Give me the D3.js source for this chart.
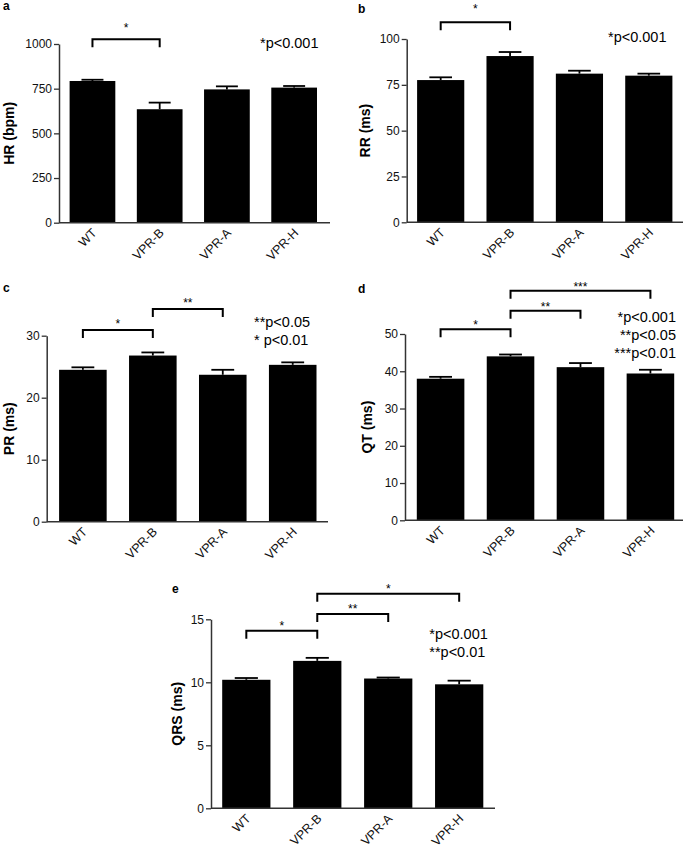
<!DOCTYPE html>
<html>
<head>
<meta charset="utf-8">
<script src="https://cdn.jsdelivr.net/npm/d3@7/dist/d3.min.js"></script>
<style>
  html, body { margin: 0; padding: 0; background: #fff; }
  svg { display: block; font-family: "Liberation Sans", Arial, sans-serif; }
</style>
</head>
<body>
<svg id="chart" width="685" height="852"></svg>
<script>
// ---------- DATA ----------
const groups = ["WT", "VPR-B", "VPR-A", "VPR-H"];

const hrMean = [793, 635, 746, 756];
const hrErr  = [7, 37, 17, 9];
const rrMean = [77.6, 90.7, 81.1, 80.0];
const rrErr  = [1.5, 2.2, 1.6, 1.1];
const prMean = [24.5, 26.8, 23.7, 25.3];
const prErr  = [0.4, 0.5, 0.8, 0.4];
const qtMean = [38.0, 44.0, 41.1, 39.4];
const qtErr  = [0.5, 0.5, 1.1, 1.0];
const qrsMean = [10.2, 11.7, 10.3, 9.84];
const qrsErr  = [0.14, 0.24, 0.08, 0.29];

const hrTicks  = [0, 250, 500, 750, 1000];
const rrTicks  = [0, 25, 50, 75, 100];
const prTicks  = [0, 10, 20, 30];
const qtTicks  = [0, 10, 20, 30, 40, 50];
const qrsTicks = [0, 5, 10, 15];

// significance brackets: [groupA, groupB, label, level (data units)]
const hrBrackets  = [[0, 1, "*", 1026]];
const rrBrackets  = [[0, 1, "*", 109.1]];
const prBrackets  = [[0, 1, "*", 30.9], [1, 2, "**", 34.3]];
const qtBrackets  = [[0, 1, "*", 51.3], [1, 2, "**", 56.25], [1, 3, "***", 61.6]];
const qrsBrackets = [[0, 1, "*", 14.1], [1, 2, "**", 15.42], [1, 3, "*", 17.03]];

const hrNotes  = ["*p<0.001"];
const rrNotes  = ["*p<0.001"];
const prNotes  = ["**p<0.05", "* p<0.01"];
const qtNotes  = ["*p<0.001", "**p<0.05", "***p<0.01"];
const qrsNotes = ["*p<0.001", "**p<0.01"];

// ---------- LAYOUT ----------
const panels = [
  { letter: "a", lx: 3, ly: 10, yLabel: "HR (bpm)", mean: hrMean, err: hrErr, ticks: hrTicks, brackets: hrBrackets, notes: hrNotes,
    axisX: 59, axisEnd: 330, band: [69.6, 317], yTop: 44, yBottom: 222.7, labelX: 14, noteX: 260, noteY: 48, anchor: "start", starGap: 7 },
  { letter: "b", lx: 358, ly: 13, yLabel: "RR (ms)", mean: rrMean, err: rrErr, ticks: rrTicks, brackets: rrBrackets, notes: rrNotes,
    axisX: 406.7, axisEnd: 683, band: [417.1, 672.4], yTop: 39, yBottom: 222.3, labelX: 370, noteX: 608, noteY: 42, anchor: "start", starGap: 9 },
  { letter: "c", lx: 3, ly: 292, yLabel: "PR (ms)", mean: prMean, err: prErr, ticks: prTicks, brackets: prBrackets, notes: prNotes,
    axisX: 46.7, axisEnd: 328, band: [59.1, 316.5], yTop: 335.7, yBottom: 521.7, labelX: 14, noteX: 254, noteY: 327.3, anchor: "start", starGap: 2 },
  { letter: "d", lx: 358, ly: 293, yLabel: "QT (ms)", mean: qtMean, err: qtErr, ticks: qtTicks, brackets: qtBrackets, notes: qtNotes,
    axisX: 405, axisEnd: 683, band: [416.8, 674.2], yTop: 334, yBottom: 520.3, labelX: 372, noteX: 676, noteY: 321.7, anchor: "end", starGap: 0 },
  { letter: "e", lx: 172, ly: 593, yLabel: "QRS (ms)", mean: qrsMean, err: qrsErr, ticks: qrsTicks, brackets: qrsBrackets, notes: qrsNotes,
    axisX: 211, axisEnd: 495, band: [222.2, 483.3], yTop: 619.3, yBottom: 808.3, labelX: 182, noteX: 429.3, noteY: 639.3, anchor: "start", starGap: 1 }
];

const svg = d3.select("#chart");
const axisColor = "#333";

panels.forEach(p => {
  const g = svg.append("g");
  const yMax = p.ticks[p.ticks.length - 1];
  const y = d3.scaleLinear().domain([0, yMax]).range([p.yBottom, p.yTop]);
  const x = d3.scaleBand().domain(groups).range(p.band).paddingInner(0.32).paddingOuter(0);

  // panel letter
  g.append("text").attr("x", p.lx).attr("y", p.ly)
    .attr("font-size", 12).attr("font-weight", "bold").text(p.letter);

  // bars
  g.selectAll("rect.bar").data(groups).enter().append("rect")
    .attr("class", "bar")
    .attr("x", d => x(d))
    .attr("width", x.bandwidth())
    .attr("y", (d, i) => y(p.mean[i]))
    .attr("height", (d, i) => y(0) - y(p.mean[i]))
    .attr("fill", "#000");

  // error bars (upper only)
  const capW = x.bandwidth() * 0.48;
  groups.forEach((d, i) => {
    const cx = x(d) + x.bandwidth() / 2;
    g.append("line").attr("x1", cx).attr("x2", cx)
      .attr("y1", y(p.mean[i])).attr("y2", y(p.mean[i] + p.err[i]))
      .attr("stroke", "#000").attr("stroke-width", 1.8);
    g.append("line").attr("x1", cx - capW / 2).attr("x2", cx + capW / 2)
      .attr("y1", y(p.mean[i] + p.err[i])).attr("y2", y(p.mean[i] + p.err[i]))
      .attr("stroke", "#000").attr("stroke-width", 1.8);
  });

  // y axis
  const yAxis = d3.axisLeft(y).tickValues(p.ticks).tickFormat(d3.format("d"))
    .tickSize(5).tickPadding(2).tickSizeOuter(0);
  const ya = g.append("g").attr("transform", `translate(${p.axisX},0)`).call(yAxis);
  ya.select(".domain").attr("stroke", axisColor).attr("stroke-width", 1.5);
  ya.selectAll(".tick line").attr("stroke", axisColor).attr("stroke-width", 1.3);
  ya.selectAll(".tick text").attr("font-size", 12).attr("fill", "#111")
    .attr("font-family", "'Liberation Sans', Arial, sans-serif");

  // x axis line
  g.append("line").attr("x1", p.axisX).attr("x2", p.axisEnd)
    .attr("y1", y(0)).attr("y2", y(0))
    .attr("stroke", axisColor).attr("stroke-width", 1.5);

  // x labels rotated 45 degrees
  groups.forEach(d => {
    const cx = x(d) + x.bandwidth() / 2;
    g.append("text")
      .attr("transform", `translate(${cx + 5},${y(0) + 11}) rotate(-45)`)
      .attr("text-anchor", "end").attr("font-size", 12.5).attr("fill", "#111")
      .text(d);
  });

  // y label
  g.append("text")
    .attr("transform", `translate(${p.labelX},${(p.yTop + p.yBottom) / 2}) rotate(-90)`)
    .attr("text-anchor", "middle").attr("font-size", 14).attr("font-weight", "bold")
    .text(p.yLabel);

  // brackets
  p.brackets.forEach(b => {
    const x1 = x(groups[b[0]]) + x.bandwidth() / 2;
    const x2 = x(groups[b[1]]) + x.bandwidth() / 2;
    const top = y(b[3]);
    g.append("path")
      .attr("d", `M${x1},${top + 8}V${top}H${x2}V${top + 8}`)
      .attr("fill", "none").attr("stroke", "#000").attr("stroke-width", 2);
    g.append("text").attr("x", (x1 + x2) / 2).attr("y", top - p.starGap)
      .attr("text-anchor", "middle").attr("font-size", 12).text(b[2]);
  });

  // p-value notes
  p.notes.forEach((t, i) => {
    g.append("text").attr("x", p.noteX).attr("y", p.noteY + i * 18)
      .attr("text-anchor", p.anchor).attr("font-size", 14.5).attr("fill", "#000")
      .text(t);
  });
});
</script>
</body>
</html>
